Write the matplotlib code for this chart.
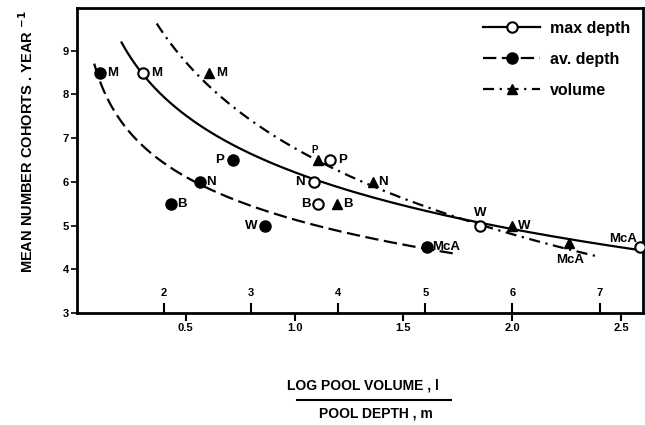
import numpy as np
import matplotlib
matplotlib.use("Agg")
import matplotlib.pyplot as plt
from matplotlib.lines import Line2D

plt.rcParams["font.family"] = ["Liberation Sans", "DejaVu Sans"]
plt.rcParams["font.weight"] = "bold"
plt.rcParams["mathtext.default"] = "bf"

# Pool sites and mean number of cohorts per year
sites = ["M", "P", "N", "B", "W", "McA"]
cohorts = [8.5, 6.5, 6.0, 5.5, 5.0, 4.5]
volume_cohorts = [8.5, 6.5, 6.0, 5.5, 5.0, 4.6]

# Horizontal positions (log pool volume axis units)
max_depth_x = [0.303, 1.161, 1.087, 1.106, 1.853, 2.587]
av_depth_x = [0.106, 0.716, 0.564, 0.431, 0.862, 1.606]
volume_x = [0.606, 1.106, 1.358, 1.197, 2.000, 2.261]

# Extent of each fitted curve along the x axis
max_depth_span = [0.206, 2.60]
av_depth_span = [0.08, 1.73]
volume_span = [0.367, 2.40]

volume_ticks = [0.5, 1.0, 1.5, 2.0, 2.5]
volume_ticklabels = ["0.5", "1.0", "1.5", "2.0", "2.5"]
depth_ticks = [2, 3, 4, 5, 6, 7]
cohort_ticks = [3, 4, 5, 6, 7, 8, 9]

fig = plt.figure(figsize=(6.45, 4.25), dpi=100)
ax = fig.add_axes([0.119, 0.2635, 0.878, 0.718])
ax.set_xlim(0, 2.6)
ax.set_ylim(3, 9.98)

dash = (0, (6, 2.5))
dashdot = (0, (5, 2.5, 1, 2.5))


def fitted_curve(x, y, span, style):
    coef = np.polyfit(np.log(x), y, 1)
    xs = np.linspace(span[0], span[1], 300)
    ax.plot(xs, np.polyval(coef, np.log(xs)), color="black", lw=1.6,
            linestyle=style, clip_on=False, zorder=2)


fitted_curve(max_depth_x, cohorts, max_depth_span, "-")
fitted_curve(av_depth_x, cohorts, av_depth_span, dash)
fitted_curve(volume_x, volume_cohorts, volume_span, dashdot)

ax.plot(max_depth_x, cohorts, "o", ms=7.5, mfc="white", mec="black",
        mew=1.5, ls="none", clip_on=False, zorder=4)
ax.plot(av_depth_x, cohorts, "o", ms=8, color="black", ls="none",
        clip_on=False, zorder=4)
ax.plot(volume_x, volume_cohorts, "^", ms=7.5, color="black", ls="none",
        clip_on=False, zorder=4)

# Site labels: (dx, dy) offsets in points and horizontal alignment
max_depth_lbl = [((6, 0), "left"), ((6, 0), "left"), ((-6, 0), "right"),
                 ((-5, 0), "right"), ((0, 9), "center"), ((-2, 6), "right")]
av_depth_lbl = [((5, 0), "left"), ((-6, 0), "right"), ((5, 0), "left"),
                ((5, 0), "left"), ((-5, 0), "right"), ((4, 0), "left")]
volume_lbl = [((5, 0), "left"), ((-2, 7), "center"), ((4, 0), "left"),
              ((4, 0), "left"), ((4, 0), "left"), ((1, -12), "center")]

for xs, ys, lbls in ((max_depth_x, cohorts, max_depth_lbl),
                     (av_depth_x, cohorts, av_depth_lbl),
                     (volume_x, volume_cohorts, volume_lbl)):
    for name, x, y, (off, ha) in zip(sites, xs, ys, lbls):
        small = (xs is volume_x and name == "P")
        ax.annotate(name, (x, y), xytext=off, textcoords="offset points",
                    ha=ha, va="center", fontsize=7 if small else 9.5,
                    fontweight="bold", annotation_clip=False, zorder=5)

# Axes styling
for s in ax.spines.values():
    s.set_linewidth(2)
ax.set_xticks(volume_ticks)
ax.set_xticklabels(volume_ticklabels)
ax.set_yticks(cohort_ticks)
ax.tick_params(axis="x", direction="out", length=6, width=1.5, labelsize=8,
               pad=1.5)
ax.tick_params(axis="y", direction="out", length=4, width=1.2, labelsize=8,
               pad=1.5)

# Pool depth scale sharing the bottom edge
depth_axis = ax.secondary_xaxis(0, functions=(lambda v: 1 + v / 0.4,
                                              lambda d: 0.4 * (d - 1)))
depth_axis.set_xticks(depth_ticks)
depth_axis.tick_params(direction="in", length=7, width=1.5, labelsize=8,
                       pad=-18)
depth_axis.spines["bottom"].set_visible(False)

ax.set_ylabel("MEAN NUMBER COHORTS . YEAR $^{-1}$", fontsize=10.5,
              fontweight="bold")
ax.yaxis.set_label_coords(-0.072, 0.56)

# Legend
handles = [
    Line2D([], [], color="black", lw=1.6, ls="-", marker="o", ms=7.5,
           mfc="white", mec="black", mew=1.5),
    Line2D([], [], color="black", lw=1.6, ls=dash, marker="o", ms=8,
           mfc="black", mec="black"),
    Line2D([], [], color="black", lw=1.6, ls=dashdot, marker="^", ms=7,
           mfc="black", mec="black"),
]
ax.legend(handles, ["max depth", "av. depth", "volume"], loc="upper right",
          bbox_to_anchor=(1.0, 1.0), frameon=False, numpoints=1,
          handlelength=3.6, handletextpad=0.6, labelspacing=1.0,
          fontsize=11.5, borderaxespad=0.4)

# Combined axis caption below the plot
fig.text(0.563, 0.094, "LOG POOL VOLUME , l", ha="center", va="center",
         fontsize=10, fontweight="bold")
fig.add_artist(Line2D([0.46, 0.70], [0.059, 0.059], color="black", lw=1.5,
                      transform=fig.transFigure))
fig.text(0.583, 0.028, "POOL DEPTH , m", ha="center", va="center",
         fontsize=10, fontweight="bold")

fig.savefig("out.png", dpi=100)
